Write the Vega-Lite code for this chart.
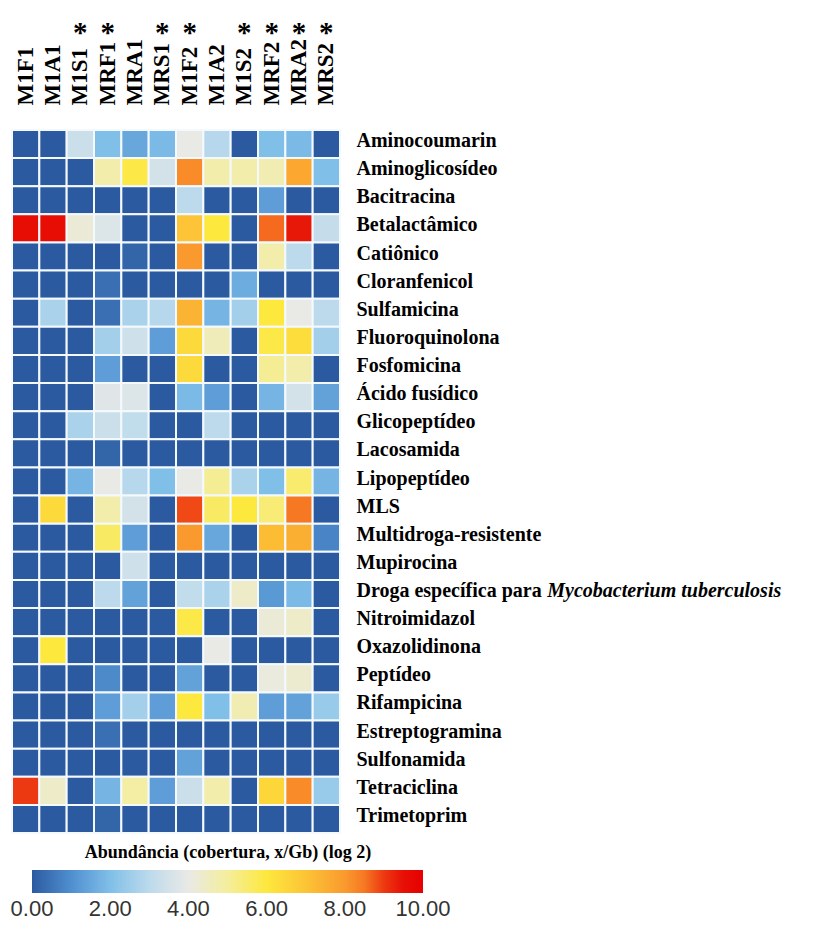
{
  "$schema": "https://vega.github.io/schema/vega-lite/v6.json",
  "autosize": "none",
  "padding": {"left": 12, "top": 130, "right": 479, "bottom": 100},
  "width": 328,
  "height": 703,
  "background": "#ffffff",
  "config": {"view": {"stroke": null}},
  "data": {"values": [
    {"classe":"Aminocoumarin","amostra":"M1F1","valor":0},{"classe":"Aminocoumarin","amostra":"M1A1","valor":0},{"classe":"Aminocoumarin","amostra":"M1S1","valor":3.3},{"classe":"Aminocoumarin","amostra":"MRF1","valor":2.0},{"classe":"Aminocoumarin","amostra":"MRA1","valor":1.5},{"classe":"Aminocoumarin","amostra":"MRS1","valor":1.9},{"classe":"Aminocoumarin","amostra":"M1F2","valor":4.0},{"classe":"Aminocoumarin","amostra":"M1A2","valor":2.9},{"classe":"Aminocoumarin","amostra":"M1S2","valor":0},{"classe":"Aminocoumarin","amostra":"MRF2","valor":2.0},{"classe":"Aminocoumarin","amostra":"MRA2","valor":1.9},{"classe":"Aminocoumarin","amostra":"MRS2","valor":0},
    {"classe":"Aminoglicosídeo","amostra":"M1F1","valor":0},{"classe":"Aminoglicosídeo","amostra":"M1A1","valor":0},{"classe":"Aminoglicosídeo","amostra":"M1S1","valor":0},{"classe":"Aminoglicosídeo","amostra":"MRF1","valor":4.8},{"classe":"Aminoglicosídeo","amostra":"MRA1","valor":5.9},{"classe":"Aminoglicosídeo","amostra":"MRS1","valor":3.5},{"classe":"Aminoglicosídeo","amostra":"M1F2","valor":8.2},{"classe":"Aminoglicosídeo","amostra":"M1A2","valor":4.8},{"classe":"Aminoglicosídeo","amostra":"M1S2","valor":4.8},{"classe":"Aminoglicosídeo","amostra":"MRF2","valor":4.7},{"classe":"Aminoglicosídeo","amostra":"MRA2","valor":7.7},{"classe":"Aminoglicosídeo","amostra":"MRS2","valor":2.0},
    {"classe":"Bacitracina","amostra":"M1F1","valor":0},{"classe":"Bacitracina","amostra":"M1A1","valor":0},{"classe":"Bacitracina","amostra":"M1S1","valor":0},{"classe":"Bacitracina","amostra":"MRF1","valor":0},{"classe":"Bacitracina","amostra":"MRA1","valor":0},{"classe":"Bacitracina","amostra":"MRS1","valor":0},{"classe":"Bacitracina","amostra":"M1F2","valor":3.0},{"classe":"Bacitracina","amostra":"M1A2","valor":0},{"classe":"Bacitracina","amostra":"M1S2","valor":0},{"classe":"Bacitracina","amostra":"MRF2","valor":1.3},{"classe":"Bacitracina","amostra":"MRA2","valor":0},{"classe":"Bacitracina","amostra":"MRS2","valor":0},
    {"classe":"Betalactâmico","amostra":"M1F1","valor":9.6},{"classe":"Betalactâmico","amostra":"M1A1","valor":9.6},{"classe":"Betalactâmico","amostra":"M1S1","valor":4.2},{"classe":"Betalactâmico","amostra":"MRF1","valor":3.7},{"classe":"Betalactâmico","amostra":"MRA1","valor":0},{"classe":"Betalactâmico","amostra":"MRS1","valor":0},{"classe":"Betalactâmico","amostra":"M1F2","valor":7.0},{"classe":"Betalactâmico","amostra":"M1A2","valor":6.0},{"classe":"Betalactâmico","amostra":"M1S2","valor":0},{"classe":"Betalactâmico","amostra":"MRF2","valor":8.7},{"classe":"Betalactâmico","amostra":"MRA2","valor":9.2},{"classe":"Betalactâmico","amostra":"MRS2","valor":3.2},
    {"classe":"Catiônico","amostra":"M1F1","valor":0},{"classe":"Catiônico","amostra":"M1A1","valor":0},{"classe":"Catiônico","amostra":"M1S1","valor":0},{"classe":"Catiônico","amostra":"MRF1","valor":0},{"classe":"Catiônico","amostra":"MRA1","valor":0.2},{"classe":"Catiônico","amostra":"MRS1","valor":0},{"classe":"Catiônico","amostra":"M1F2","valor":8.0},{"classe":"Catiônico","amostra":"M1A2","valor":0},{"classe":"Catiônico","amostra":"M1S2","valor":0},{"classe":"Catiônico","amostra":"MRF2","valor":4.8},{"classe":"Catiônico","amostra":"MRA2","valor":3.0},{"classe":"Catiônico","amostra":"MRS2","valor":0},
    {"classe":"Cloranfenicol","amostra":"M1F1","valor":0},{"classe":"Cloranfenicol","amostra":"M1A1","valor":0},{"classe":"Cloranfenicol","amostra":"M1S1","valor":0},{"classe":"Cloranfenicol","amostra":"MRF1","valor":0.4},{"classe":"Cloranfenicol","amostra":"MRA1","valor":0},{"classe":"Cloranfenicol","amostra":"MRS1","valor":0},{"classe":"Cloranfenicol","amostra":"M1F2","valor":0},{"classe":"Cloranfenicol","amostra":"M1A2","valor":0},{"classe":"Cloranfenicol","amostra":"M1S2","valor":1.6},{"classe":"Cloranfenicol","amostra":"MRF2","valor":0},{"classe":"Cloranfenicol","amostra":"MRA2","valor":0},{"classe":"Cloranfenicol","amostra":"MRS2","valor":0},
    {"classe":"Sulfamicina","amostra":"M1F1","valor":0},{"classe":"Sulfamicina","amostra":"M1A1","valor":2.7},{"classe":"Sulfamicina","amostra":"M1S1","valor":0},{"classe":"Sulfamicina","amostra":"MRF1","valor":0.4},{"classe":"Sulfamicina","amostra":"MRA1","valor":2.7},{"classe":"Sulfamicina","amostra":"MRS1","valor":2.9},{"classe":"Sulfamicina","amostra":"M1F2","valor":7.4},{"classe":"Sulfamicina","amostra":"M1A2","valor":1.8},{"classe":"Sulfamicina","amostra":"M1S2","valor":2.6},{"classe":"Sulfamicina","amostra":"MRF2","valor":6.0},{"classe":"Sulfamicina","amostra":"MRA2","valor":4.0},{"classe":"Sulfamicina","amostra":"MRS2","valor":3.0},
    {"classe":"Fluoroquinolona","amostra":"M1F1","valor":0},{"classe":"Fluoroquinolona","amostra":"M1A1","valor":0},{"classe":"Fluoroquinolona","amostra":"M1S1","valor":0},{"classe":"Fluoroquinolona","amostra":"MRF1","valor":2.6},{"classe":"Fluoroquinolona","amostra":"MRA1","valor":3.4},{"classe":"Fluoroquinolona","amostra":"MRS1","valor":1.3},{"classe":"Fluoroquinolona","amostra":"M1F2","valor":6.4},{"classe":"Fluoroquinolona","amostra":"M1A2","valor":4.6},{"classe":"Fluoroquinolona","amostra":"M1S2","valor":0},{"classe":"Fluoroquinolona","amostra":"MRF2","valor":5.9},{"classe":"Fluoroquinolona","amostra":"MRA2","valor":6.3},{"classe":"Fluoroquinolona","amostra":"MRS2","valor":2.6},
    {"classe":"Fosfomicina","amostra":"M1F1","valor":0},{"classe":"Fosfomicina","amostra":"M1A1","valor":0},{"classe":"Fosfomicina","amostra":"M1S1","valor":0},{"classe":"Fosfomicina","amostra":"MRF1","valor":1.3},{"classe":"Fosfomicina","amostra":"MRA1","valor":0},{"classe":"Fosfomicina","amostra":"MRS1","valor":0},{"classe":"Fosfomicina","amostra":"M1F2","valor":6.4},{"classe":"Fosfomicina","amostra":"M1A2","valor":0},{"classe":"Fosfomicina","amostra":"M1S2","valor":0},{"classe":"Fosfomicina","amostra":"MRF2","valor":5.1},{"classe":"Fosfomicina","amostra":"MRA2","valor":4.8},{"classe":"Fosfomicina","amostra":"MRS2","valor":0},
    {"classe":"Ácido fusídico","amostra":"M1F1","valor":0},{"classe":"Ácido fusídico","amostra":"M1A1","valor":0},{"classe":"Ácido fusídico","amostra":"M1S1","valor":0},{"classe":"Ácido fusídico","amostra":"MRF1","valor":3.8},{"classe":"Ácido fusídico","amostra":"MRA1","valor":3.7},{"classe":"Ácido fusídico","amostra":"MRS1","valor":0},{"classe":"Ácido fusídico","amostra":"M1F2","valor":1.9},{"classe":"Ácido fusídico","amostra":"M1A2","valor":1.3},{"classe":"Ácido fusídico","amostra":"M1S2","valor":0},{"classe":"Ácido fusídico","amostra":"MRF2","valor":1.8},{"classe":"Ácido fusídico","amostra":"MRA2","valor":3.5},{"classe":"Ácido fusídico","amostra":"MRS2","valor":1.4},
    {"classe":"Glicopeptídeo","amostra":"M1F1","valor":0},{"classe":"Glicopeptídeo","amostra":"M1A1","valor":0},{"classe":"Glicopeptídeo","amostra":"M1S1","valor":2.7},{"classe":"Glicopeptídeo","amostra":"MRF1","valor":3.3},{"classe":"Glicopeptídeo","amostra":"MRA1","valor":3.1},{"classe":"Glicopeptídeo","amostra":"MRS1","valor":0},{"classe":"Glicopeptídeo","amostra":"M1F2","valor":0},{"classe":"Glicopeptídeo","amostra":"M1A2","valor":3.0},{"classe":"Glicopeptídeo","amostra":"M1S2","valor":0},{"classe":"Glicopeptídeo","amostra":"MRF2","valor":0},{"classe":"Glicopeptídeo","amostra":"MRA2","valor":0},{"classe":"Glicopeptídeo","amostra":"MRS2","valor":0},
    {"classe":"Lacosamida","amostra":"M1F1","valor":0},{"classe":"Lacosamida","amostra":"M1A1","valor":0},{"classe":"Lacosamida","amostra":"M1S1","valor":0},{"classe":"Lacosamida","amostra":"MRF1","valor":0.2},{"classe":"Lacosamida","amostra":"MRA1","valor":0},{"classe":"Lacosamida","amostra":"MRS1","valor":0},{"classe":"Lacosamida","amostra":"M1F2","valor":0},{"classe":"Lacosamida","amostra":"M1A2","valor":0},{"classe":"Lacosamida","amostra":"M1S2","valor":0},{"classe":"Lacosamida","amostra":"MRF2","valor":0},{"classe":"Lacosamida","amostra":"MRA2","valor":0},{"classe":"Lacosamida","amostra":"MRS2","valor":0},
    {"classe":"Lipopeptídeo","amostra":"M1F1","valor":0},{"classe":"Lipopeptídeo","amostra":"M1A1","valor":0},{"classe":"Lipopeptídeo","amostra":"M1S1","valor":1.8},{"classe":"Lipopeptídeo","amostra":"MRF1","valor":4.0},{"classe":"Lipopeptídeo","amostra":"MRA1","valor":2.9},{"classe":"Lipopeptídeo","amostra":"MRS1","valor":2.0},{"classe":"Lipopeptídeo","amostra":"M1F2","valor":4.0},{"classe":"Lipopeptídeo","amostra":"M1A2","valor":5.1},{"classe":"Lipopeptídeo","amostra":"M1S2","valor":2.7},{"classe":"Lipopeptídeo","amostra":"MRF2","valor":2.0},{"classe":"Lipopeptídeo","amostra":"MRA2","valor":5.5},{"classe":"Lipopeptídeo","amostra":"MRS2","valor":1.8},
    {"classe":"MLS","amostra":"M1F1","valor":0},{"classe":"MLS","amostra":"M1A1","valor":6.4},{"classe":"MLS","amostra":"M1S1","valor":0},{"classe":"MLS","amostra":"MRF1","valor":4.8},{"classe":"MLS","amostra":"MRA1","valor":3.5},{"classe":"MLS","amostra":"MRS1","valor":0},{"classe":"MLS","amostra":"M1F2","valor":8.9},{"classe":"MLS","amostra":"M1A2","valor":5.6},{"classe":"MLS","amostra":"M1S2","valor":6.0},{"classe":"MLS","amostra":"MRF2","valor":5.4},{"classe":"MLS","amostra":"MRA2","valor":8.5},{"classe":"MLS","amostra":"MRS2","valor":0},
    {"classe":"Multidroga-resistente","amostra":"M1F1","valor":0},{"classe":"Multidroga-resistente","amostra":"M1A1","valor":0},{"classe":"Multidroga-resistente","amostra":"M1S1","valor":0},{"classe":"Multidroga-resistente","amostra":"MRF1","valor":5.6},{"classe":"Multidroga-resistente","amostra":"MRA1","valor":1.3},{"classe":"Multidroga-resistente","amostra":"MRS1","valor":0},{"classe":"Multidroga-resistente","amostra":"M1F2","valor":8.0},{"classe":"Multidroga-resistente","amostra":"M1A2","valor":1.5},{"classe":"Multidroga-resistente","amostra":"M1S2","valor":0},{"classe":"Multidroga-resistente","amostra":"MRF2","valor":7.2},{"classe":"Multidroga-resistente","amostra":"MRA2","valor":7.5},{"classe":"Multidroga-resistente","amostra":"MRS2","valor":0.8},
    {"classe":"Mupirocina","amostra":"M1F1","valor":0},{"classe":"Mupirocina","amostra":"M1A1","valor":0},{"classe":"Mupirocina","amostra":"M1S1","valor":0},{"classe":"Mupirocina","amostra":"MRF1","valor":0},{"classe":"Mupirocina","amostra":"MRA1","valor":3.4},{"classe":"Mupirocina","amostra":"MRS1","valor":0},{"classe":"Mupirocina","amostra":"M1F2","valor":0},{"classe":"Mupirocina","amostra":"M1A2","valor":0},{"classe":"Mupirocina","amostra":"M1S2","valor":0},{"classe":"Mupirocina","amostra":"MRF2","valor":0},{"classe":"Mupirocina","amostra":"MRA2","valor":0},{"classe":"Mupirocina","amostra":"MRS2","valor":0},
    {"classe":"Droga específica para Mycobacterium tuberculosis","amostra":"M1F1","valor":0},{"classe":"Droga específica para Mycobacterium tuberculosis","amostra":"M1A1","valor":0},{"classe":"Droga específica para Mycobacterium tuberculosis","amostra":"M1S1","valor":0},{"classe":"Droga específica para Mycobacterium tuberculosis","amostra":"MRF1","valor":3.0},{"classe":"Droga específica para Mycobacterium tuberculosis","amostra":"MRA1","valor":1.4},{"classe":"Droga específica para Mycobacterium tuberculosis","amostra":"MRS1","valor":0},{"classe":"Droga específica para Mycobacterium tuberculosis","amostra":"M1F2","valor":3.1},{"classe":"Droga específica para Mycobacterium tuberculosis","amostra":"M1A2","valor":2.7},{"classe":"Droga específica para Mycobacterium tuberculosis","amostra":"M1S2","valor":4.4},{"classe":"Droga específica para Mycobacterium tuberculosis","amostra":"MRF2","valor":1.2},{"classe":"Droga específica para Mycobacterium tuberculosis","amostra":"MRA2","valor":1.9},{"classe":"Droga específica para Mycobacterium tuberculosis","amostra":"MRS2","valor":0},
    {"classe":"Nitroimidazol","amostra":"M1F1","valor":0},{"classe":"Nitroimidazol","amostra":"M1A1","valor":0},{"classe":"Nitroimidazol","amostra":"M1S1","valor":0},{"classe":"Nitroimidazol","amostra":"MRF1","valor":0},{"classe":"Nitroimidazol","amostra":"MRA1","valor":0},{"classe":"Nitroimidazol","amostra":"MRS1","valor":0},{"classe":"Nitroimidazol","amostra":"M1F2","valor":5.9},{"classe":"Nitroimidazol","amostra":"M1A2","valor":0},{"classe":"Nitroimidazol","amostra":"M1S2","valor":0},{"classe":"Nitroimidazol","amostra":"MRF2","valor":4.2},{"classe":"Nitroimidazol","amostra":"MRA2","valor":4.4},{"classe":"Nitroimidazol","amostra":"MRS2","valor":0},
    {"classe":"Oxazolidinona","amostra":"M1F1","valor":0},{"classe":"Oxazolidinona","amostra":"M1A1","valor":6.0},{"classe":"Oxazolidinona","amostra":"M1S1","valor":0},{"classe":"Oxazolidinona","amostra":"MRF1","valor":0},{"classe":"Oxazolidinona","amostra":"MRA1","valor":0},{"classe":"Oxazolidinona","amostra":"MRS1","valor":0},{"classe":"Oxazolidinona","amostra":"M1F2","valor":0},{"classe":"Oxazolidinona","amostra":"M1A2","valor":4.0},{"classe":"Oxazolidinona","amostra":"M1S2","valor":0},{"classe":"Oxazolidinona","amostra":"MRF2","valor":0},{"classe":"Oxazolidinona","amostra":"MRA2","valor":0},{"classe":"Oxazolidinona","amostra":"MRS2","valor":0},
    {"classe":"Peptídeo","amostra":"M1F1","valor":0},{"classe":"Peptídeo","amostra":"M1A1","valor":0},{"classe":"Peptídeo","amostra":"M1S1","valor":0},{"classe":"Peptídeo","amostra":"MRF1","valor":0.9},{"classe":"Peptídeo","amostra":"MRA1","valor":0},{"classe":"Peptídeo","amostra":"MRS1","valor":0},{"classe":"Peptídeo","amostra":"M1F2","valor":1.4},{"classe":"Peptídeo","amostra":"M1A2","valor":0},{"classe":"Peptídeo","amostra":"M1S2","valor":0},{"classe":"Peptídeo","amostra":"MRF2","valor":4.1},{"classe":"Peptídeo","amostra":"MRA2","valor":4.3},{"classe":"Peptídeo","amostra":"MRS2","valor":0},
    {"classe":"Rifampicina","amostra":"M1F1","valor":0},{"classe":"Rifampicina","amostra":"M1A1","valor":0},{"classe":"Rifampicina","amostra":"M1S1","valor":0},{"classe":"Rifampicina","amostra":"MRF1","valor":1.3},{"classe":"Rifampicina","amostra":"MRA1","valor":2.6},{"classe":"Rifampicina","amostra":"MRS1","valor":1.3},{"classe":"Rifampicina","amostra":"M1F2","valor":6.0},{"classe":"Rifampicina","amostra":"M1A2","valor":2.0},{"classe":"Rifampicina","amostra":"M1S2","valor":4.7},{"classe":"Rifampicina","amostra":"MRF2","valor":1.3},{"classe":"Rifampicina","amostra":"MRA2","valor":1.4},{"classe":"Rifampicina","amostra":"MRS2","valor":2.4},
    {"classe":"Estreptogramina","amostra":"M1F1","valor":0},{"classe":"Estreptogramina","amostra":"M1A1","valor":0},{"classe":"Estreptogramina","amostra":"M1S1","valor":0},{"classe":"Estreptogramina","amostra":"MRF1","valor":0.4},{"classe":"Estreptogramina","amostra":"MRA1","valor":0},{"classe":"Estreptogramina","amostra":"MRS1","valor":0},{"classe":"Estreptogramina","amostra":"M1F2","valor":0},{"classe":"Estreptogramina","amostra":"M1A2","valor":0},{"classe":"Estreptogramina","amostra":"M1S2","valor":0},{"classe":"Estreptogramina","amostra":"MRF2","valor":0},{"classe":"Estreptogramina","amostra":"MRA2","valor":0},{"classe":"Estreptogramina","amostra":"MRS2","valor":0},
    {"classe":"Sulfonamida","amostra":"M1F1","valor":0},{"classe":"Sulfonamida","amostra":"M1A1","valor":0},{"classe":"Sulfonamida","amostra":"M1S1","valor":0},{"classe":"Sulfonamida","amostra":"MRF1","valor":0},{"classe":"Sulfonamida","amostra":"MRA1","valor":0},{"classe":"Sulfonamida","amostra":"MRS1","valor":0},{"classe":"Sulfonamida","amostra":"M1F2","valor":1.4},{"classe":"Sulfonamida","amostra":"M1A2","valor":0},{"classe":"Sulfonamida","amostra":"M1S2","valor":0},{"classe":"Sulfonamida","amostra":"MRF2","valor":0},{"classe":"Sulfonamida","amostra":"MRA2","valor":0},{"classe":"Sulfonamida","amostra":"MRS2","valor":0},
    {"classe":"Tetraciclina","amostra":"M1F1","valor":9.0},{"classe":"Tetraciclina","amostra":"M1A1","valor":4.4},{"classe":"Tetraciclina","amostra":"M1S1","valor":0},{"classe":"Tetraciclina","amostra":"MRF1","valor":1.8},{"classe":"Tetraciclina","amostra":"MRA1","valor":4.9},{"classe":"Tetraciclina","amostra":"MRS1","valor":1.3},{"classe":"Tetraciclina","amostra":"M1F2","valor":3.3},{"classe":"Tetraciclina","amostra":"M1A2","valor":4.8},{"classe":"Tetraciclina","amostra":"M1S2","valor":0},{"classe":"Tetraciclina","amostra":"MRF2","valor":6.5},{"classe":"Tetraciclina","amostra":"MRA2","valor":8.2},{"classe":"Tetraciclina","amostra":"MRS2","valor":2.4},
    {"classe":"Trimetoprim","amostra":"M1F1","valor":0},{"classe":"Trimetoprim","amostra":"M1A1","valor":0},{"classe":"Trimetoprim","amostra":"M1S1","valor":0},{"classe":"Trimetoprim","amostra":"MRF1","valor":0.2},{"classe":"Trimetoprim","amostra":"MRA1","valor":0},{"classe":"Trimetoprim","amostra":"MRS1","valor":0},{"classe":"Trimetoprim","amostra":"M1F2","valor":0},{"classe":"Trimetoprim","amostra":"M1A2","valor":0},{"classe":"Trimetoprim","amostra":"M1S2","valor":0},{"classe":"Trimetoprim","amostra":"MRF2","valor":0},{"classe":"Trimetoprim","amostra":"MRA2","valor":0},{"classe":"Trimetoprim","amostra":"MRS2","valor":0}
  ]},
  "encoding": {
    "y": {
      "field": "classe", "type": "nominal", "sort": null,
      "axis": {
        "orient": "right", "title": null, "domain": false, "ticks": false,
        "labelPadding": 16, "labelFont": "Liberation Serif", "labelFontWeight": "bold",
        "labelFontSize": 20, "labelColor": "#000000", "labelLimit": 0, "labelAlign": "left",
        "labelOverlap": false, "labelOffset": -3,
        "labelExpr": "datum.value == 'Droga específica para Mycobacterium tuberculosis' ? 'Droga específica para' : datum.value"
      }
    }
  },
  "layer": [
    {
      "mark": {"type": "rect", "stroke": "#f4f9fd", "strokeWidth": 2},
      "encoding": {
        "x": {
          "field": "amostra", "type": "nominal", "sort": null,
          "axis": {
            "orient": "top", "title": null, "domain": false, "ticks": false,
            "labelAngle": -90, "labelPadding": 25, "labelFont": "Liberation Serif",
            "labelFontWeight": "bold", "labelFontSize": 23, "labelColor": "#000000",
            "labelOverlap": false, "labelLimit": 0
          }
        },
        "color": {
          "field": "valor", "type": "quantitative",
          "scale": {
            "domain": [0, 1, 2, 3, 4, 5, 6, 7, 8, 8.7, 9.2, 10],
            "range": ["#2c5aa0", "#4f8fcf", "#80bfe8", "#bcdaec", "#e9e9e6", "#f4ee9c", "#fde83e", "#fcc436", "#fa9a2e", "#f56a1e", "#e81808", "#e60000"],
            "interpolate": "rgb"
          },
          "legend": {
            "orient": "none", "direction": "horizontal", "legendX": 20, "legendY": 714,
            "title": "Abundância (cobertura, x/Gb) (log 2)",
            "titleFont": "Liberation Serif", "titleFontWeight": "bold", "titleFontSize": 18,
            "titleColor": "#000000", "titleAnchor": "middle", "titlePadding": 8, "titleLimit": 0,
            "gradientLength": 391, "gradientThickness": 23, "gradientStrokeWidth": 0,
            "values": [0, 2, 4, 6, 8, 10], "format": ".2f",
            "labelFont": "Liberation Sans", "labelFontSize": 22, "labelColor": "#333333",
            "labelAlign": "center", "labelOffset": 6, "labelOverlap": false,
            "encode": {"labels": {"update": {"align": {"value": "center"}}}}
          }
        }
      }
    },
    {
      "mark": {"type": "rect", "opacity": 0},
      "encoding": {
        "x": {
          "field": "amostra", "type": "nominal", "sort": null,
          "axis": {
            "orient": "top", "title": null, "domain": false, "ticks": false,
            "offset": 83, "labelPadding": 0, "labelAngle": 0,
            "labelFont": "Liberation Serif", "labelFontSize": 29, "labelFontWeight": "bold",
            "labelColor": "#000000", "labelOverlap": false,
            "labelExpr": "indexof(['M1S1','MRF1','MRS1','M1F2','M1S2','MRF2','MRA2','MRS2'], datum.value) >= 0 ? '*' : ''"
          }
        }
      }
    },
    {
      "data": {"values": [{"classe": "Droga específica para Mycobacterium tuberculosis", "destaque": "Mycobacterium tuberculosis"}]},
      "mark": {"type": "text", "align": "left", "baseline": "middle", "dx": 221, "dy": -3, "font": "Liberation Serif", "fontStyle": "italic", "fontWeight": "bold", "fontSize": 20, "color": "#000000"},
      "encoding": {
        "x": {"datum": "MRS2", "type": "nominal", "axis": null},
        "text": {"field": "destaque"}
      }
    }
  ],
  "resolve": {"axis": {"x": "independent"}}
}
